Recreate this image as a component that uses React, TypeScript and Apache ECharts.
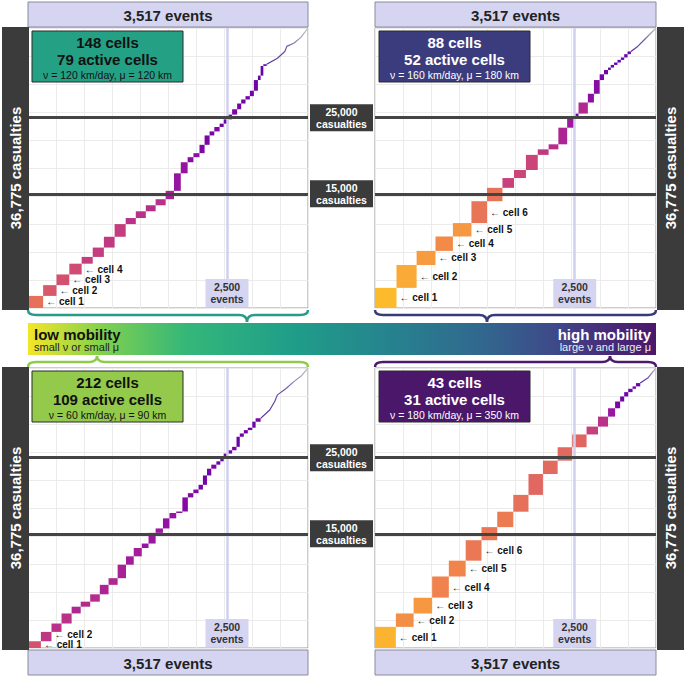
import React, { useEffect, useRef } from 'react';
import * as echarts from 'echarts';

const TOTAL_EVENTS = 3517;
const TOTAL_CASUALTIES = 36775;
const EVENT_MARK = 2500;
const CASUALTY_MARKS = [25000, 15000];

// Top-left panel: v = 120 km/day, mu = 120 km (cumulative events / casualties at cell boundaries)
const tlEvents = [0, 190, 358, 519, 674, 813, 953, 1088, 1227, 1354, 1480, 1603, 1729, 1834, 1919, 2005, 2078, 2154, 2218, 2281, 2340, 2407, 2458, 2514, 2564, 2627, 2678, 2732, 2787, 2837, 2888, 2922, 2956, 2998];
const tlCasualties = [0, 1588, 3003, 4406, 5821, 6708, 7938, 9354, 11021, 11815, 12701, 13495, 14288, 15387, 17689, 19144, 19806, 20335, 21433, 22664, 23193, 23775, 24212, 24781, 25402, 26103, 26857, 27386, 27823, 28537, 29939, 30522, 31792, 32017];
const tlTailEvents = [3133, 3226, 3251, 3343, 3428, 3517];
const tlTailCasualties = [32810, 33697, 34358, 34795, 35549, 36775];
const tlInfo = ['148 cells', '79 active cells', 'ν = 120 km/day, μ = 120 km'];

// Top-right panel: v = 160 km/day, mu = 180 km
const trEvents = [0, 269, 521, 757, 975, 1207, 1402, 1595, 1740, 1889, 2037, 2173, 2295, 2405, 2497, 2547, 2664, 2740, 2812, 2866, 2917, 2951, 2992, 3035, 3077, 3119, 3161, 3203];
const trCasualties = [0, 2646, 5649, 7501, 9393, 11153, 14024, 15784, 17067, 18125, 20110, 20837, 21499, 23682, 24939, 25534, 26989, 28140, 29940, 30694, 31262, 31580, 31924, 32242, 32586, 32903, 33340, 33697];
const trTailEvents = [3288, 3371, 3455, 3517];
const trTailCasualties = [34358, 35231, 36118, 36775];
const trInfo = ['88 cells', '52 active cells', 'ν = 160 km/day, μ = 180 km'];

// Bottom-left panel: v = 60 km/day, mu = 90 km
const blEvents = [0, 162, 295, 421, 548, 662, 781, 902, 1012, 1126, 1231, 1328, 1429, 1514, 1603, 1695, 1777, 1862, 1939, 2008, 2077, 2142, 2197, 2248, 2302, 2366, 2416, 2458, 2501, 2564, 2619, 2660, 2711, 2761, 2817, 2859, 2922];
const blCasualties = [0, 886, 2117, 3215, 4538, 5424, 6086, 7052, 8295, 9168, 10941, 12039, 13137, 13720, 15122, 15704, 17027, 17728, 17927, 19779, 20335, 20811, 21433, 22663, 23549, 24079, 24516, 24966, 25534, 25970, 26420, 27743, 28180, 28617, 28934, 29728, 30164];
const blTailEvents = [3036, 3099, 3133, 3238, 3343, 3428, 3517];
const blTailCasualties = [31262, 32374, 33247, 34041, 35020, 35681, 36775];
const blInfo = ['212 cells', '109 active cells', 'ν = 60 km/day, μ = 90 km'];

// Bottom-right panel: v = 180 km/day, mu = 350 km
const brEvents = [0, 261, 483, 715, 924, 1135, 1333, 1530, 1731, 1921, 2102, 2286, 2468, 2648, 2791, 2917, 3005, 3068, 3119, 3169, 3224, 3266, 3320];
const brCasualties = [0, 2778, 4538, 6615, 9393, 11470, 14156, 15876, 17900, 20110, 22848, 24608, 26367, 28048, 29080, 30390, 31488, 32374, 33036, 33605, 34042, 34360, 34795];
const brTailEvents = [3414, 3517];
const brTailCasualties = [35456, 36775];
const brInfo = ['43 cells', '31 active cells', 'ν = 180 km/day, μ = 350 km'];

const mobilityLabels = ['low mobility', 'small ν or small μ', 'high mobility', 'large ν and large μ'];

const FONT = '"Liberation Sans", Arial, Helvetica, sans-serif';
const LAVENDER = '#d5d5f1';
const DARK = '#3b3b3b';
const LABEL_GAP = 10;

// colour of a cell from its number of events (plasma-like)
const COLOR_STOPS: [number, string][] = [
  [30, '#5c07a6'], [60, '#7a04a8'], [90, '#9b179f'], [120, '#b42b8e'], [160, '#d3506f'],
  [185, '#e36c5e'], [210, '#f0834c'], [245, '#f9a33a'], [275, '#fcc128'],
];
function hexToRgb(h: string) {
  const n = parseInt(h.slice(1), 16);
  return [(n >> 16) & 255, (n >> 8) & 255, n & 255];
}
function cellColor(n: number) {
  const s = COLOR_STOPS;
  if (n <= s[0][0]) return s[0][1];
  if (n >= s[s.length - 1][0]) return s[s.length - 1][1];
  for (let i = 0; i < s.length - 1; i++) {
    if (n >= s[i][0] && n <= s[i + 1][0]) {
      const t = (n - s[i][0]) / (s[i + 1][0] - s[i][0]);
      const a = hexToRgb(s[i][1]);
      const b = hexToRgb(s[i + 1][1]);
      const c = a.map((v, k) => Math.round(v + (b[k] - v) * t));
      return `rgb(${c[0]},${c[1]},${c[2]})`;
    }
  }
  return s[0][1];
}

const PANELS = [
  { E: tlEvents, C: tlCasualties, tE: tlTailEvents, tC: tlTailCasualties, info: tlInfo, labelCount: 4,
    grid: { left: 28, top: 28, width: 280, height: 280 }, isTop: true, darkLeft: true,
    boxFill: '#24a085', boxText: '#111', braceColor: '#279c88', braceTip: 247 },
  { E: trEvents, C: trCasualties, tE: trTailEvents, tC: trTailCasualties, info: trInfo, labelCount: 6,
    grid: { left: 375, top: 28, width: 281, height: 280 }, isTop: true, darkLeft: false,
    boxFill: '#3b3c7e', boxText: '#fff', braceColor: '#383a7a', braceTip: 487 },
  { E: blEvents, C: blCasualties, tE: blTailEvents, tC: blTailCasualties, info: blInfo, labelCount: 2,
    grid: { left: 28, top: 368, width: 280, height: 280 }, isTop: false, darkLeft: true,
    boxFill: '#93ca4b', boxText: '#111', braceColor: '#8fca4c', braceTip: 97 },
  { E: brEvents, C: brCasualties, tE: brTailEvents, tC: brTailCasualties, info: brInfo, labelCount: 6,
    grid: { left: 375, top: 368, width: 281, height: 280 }, isTop: false, darkLeft: false,
    boxFill: '#4a176b', boxText: '#fff', braceColor: '#4b1a6c', braceTip: 610 },
];

function txt(x: number, y: number, text: string, font: string, fill: string, align = 'center', extra: any = {}) {
  return {
    type: 'text', x, y, z: 20, silent: true, ...extra,
    style: { text, font, fill, align, verticalAlign: 'middle', textAlign: align, textVerticalAlign: 'middle' },
  };
}
function box(x: number, y: number, w: number, h: number, fill: string, stroke?: string) {
  return {
    type: 'rect', z: 15, silent: true,
    shape: { x, y, width: w, height: h },
    style: { fill, stroke: stroke || null, lineWidth: stroke ? 1 : 0 },
  };
}
function brace(xL: number, xR: number, yEnd: number, yMid: number, yTip: number, xt: number, color: string) {
  const st = { stroke: color, lineWidth: 2.5, fill: 'none' };
  const r = 8;
  return [
    { type: 'bezierCurve', z: 15, shape: { x1: xL, y1: yEnd, x2: xL + r, y2: yMid, cpx1: xL, cpy1: yMid }, style: st },
    { type: 'line', z: 15, shape: { x1: xL + r, y1: yMid, x2: xt - r, y2: yMid }, style: st },
    { type: 'bezierCurve', z: 15, shape: { x1: xt - r, y1: yMid, x2: xt, y2: yTip, cpx1: xt, cpy1: yMid }, style: st },
    { type: 'bezierCurve', z: 15, shape: { x1: xt, y1: yTip, x2: xt + r, y2: yMid, cpx1: xt, cpy1: yMid }, style: st },
    { type: 'line', z: 15, shape: { x1: xt + r, y1: yMid, x2: xR - r, y2: yMid }, style: st },
    { type: 'bezierCurve', z: 15, shape: { x1: xR - r, y1: yMid, x2: xR, y2: yEnd, cpx1: xR, cpy1: yMid }, style: st },
  ];
}

function buildOption() {
  const grids: any[] = [];
  const xAxes: any[] = [];
  const yAxes: any[] = [];
  const series: any[] = [];
  PANELS.forEach((p, i) => {
    grids.push({ ...p.grid, show: true, backgroundColor: '#fff', borderColor: '#9a9a9a', borderWidth: 1 });
    xAxes.push({
      type: 'value', gridIndex: i, min: 0, max: TOTAL_EVENTS, interval: TOTAL_EVENTS / 10,
      axisLine: { show: false }, axisTick: { show: false }, axisLabel: { show: false },
      splitLine: { show: true, lineStyle: { color: '#ebebeb', width: 1 } },
    });
    yAxes.push({
      type: 'value', gridIndex: i, min: 0, max: TOTAL_CASUALTIES, interval: TOTAL_CASUALTIES / 10,
      axisLine: { show: false }, axisTick: { show: false }, axisLabel: { show: false },
      splitLine: { show: true, lineStyle: { color: '#ebebeb', width: 1 } },
    });
    series.push({
      type: 'line', xAxisIndex: i, yAxisIndex: i, data: [[0, 0]], symbol: 'none', z: 1,
      lineStyle: { width: 0 }, silent: true,
      markLine: {
        silent: true, symbol: 'none', label: { show: false }, animation: false,
        data: [
          { xAxis: EVENT_MARK, lineStyle: { color: '#cfd0f0', width: 2.5, type: 'solid' } },
          ...CASUALTY_MARKS.map((v) => ({ yAxis: v, lineStyle: { color: '#444', width: 3, type: 'solid' } })),
        ],
      },
    });
    const cells: number[][] = [];
    for (let k = 0; k < p.E.length - 1; k++) cells.push([p.E[k], p.C[k], p.E[k + 1], p.C[k + 1]]);
    const labelCount = p.labelCount;
    series.push({
      type: 'custom', xAxisIndex: i, yAxisIndex: i, z: 3, data: cells,
      encode: { x: [0, 2], y: [1, 3] },
      renderItem: (params: any, api: any) => {
        const x0 = api.value(0), y0 = api.value(1), x1 = api.value(2), y1 = api.value(3);
        const p0 = api.coord([x0, y0]);
        const p1 = api.coord([x1, y1]);
        const rect = {
          type: 'rect',
          shape: { x: p0[0], y: p1[1], width: p1[0] - p0[0], height: p0[1] - p1[1] },
          style: { fill: cellColor(x1 - x0) },
        };
        if (params.dataIndex < labelCount) {
          // label y: mid of the cell, kept at least LABEL_GAP px above the previous label
          let ly = Infinity;
          for (let k = 0; k <= params.dataIndex; k++) {
            const a = api.coord([cells[k][0], cells[k][1]]);
            const b = api.coord([cells[k][2], cells[k][3]]);
            const mid = (a[1] + b[1]) / 2;
            ly = Math.min(mid, ly - LABEL_GAP);
          }
          return {
            type: 'group',
            children: [
              rect,
              {
                type: 'text', x: p1[0] + 3, y: ly,
                style: {
                  text: '← cell ' + (params.dataIndex + 1), font: 'bold 10px ' + FONT, fill: '#111',
                  lineHeight: 9, align: 'left', verticalAlign: 'middle',
                },
              },
            ],
          };
        }
        return rect;
      },
    });
    const tail = [[p.E[p.E.length - 1], p.C[p.C.length - 1]], ...p.tE.map((e, k) => [e, p.tC[k]])];
    series.push({
      type: 'line', xAxisIndex: i, yAxisIndex: i, z: 4, data: tail, symbol: 'none', silent: true,
      lineStyle: {
        width: 1.2,
        color: new echarts.graphic.LinearGradient(0, 0, 1, 0, [
          { offset: 0, color: '#5526a0' },
          { offset: 0.5, color: '#6a55a8' },
          { offset: 1, color: '#c2c2c8' },
        ]),
      },
    });
  });
  return { animation: false, grid: grids, xAxis: xAxes, yAxis: yAxes, series };
}

function buildGraphics(chart: any) {
  const g: any[] = [];
  const eventsText = `${TOTAL_EVENTS.toLocaleString('en-US')} events`;
  const casText = `${TOTAL_CASUALTIES.toLocaleString('en-US')} casualties`;
  PANELS.forEach((p, i) => {
    const { left, top, width, height } = p.grid;
    const right = left + width;
    const bottom = top + height;
    const hy = p.isTop ? 2 : bottom + 2;
    g.push(box(left, hy, width, 25, LAVENDER, '#8a8a9a'));
    g.push(txt(left + width / 2, hy + 13, eventsText, 'bold 15px ' + FONT, '#222'));
    const dx = p.darkLeft ? 2 : right + 1;
    g.push(box(dx, top - 1, 27, height + 3, DARK));
    g.push(txt(dx + 13.5, top + height / 2, casText, 'bold 15px ' + FONT, '#fff', 'center', { rotation: Math.PI / 2 }));
    const bx = left + 4, by = top + 3;
    g.push(box(bx, by, 151, 51, p.boxFill, '#2a2a2a'));
    g.push(txt(bx + 75.5, by + 11, p.info[0], 'bold 15px ' + FONT, p.boxText));
    g.push(txt(bx + 75.5, by + 28.5, p.info[1], 'bold 15px ' + FONT, p.boxText));
    g.push(txt(bx + 75.5, by + 44, p.info[2], '10.5px ' + FONT, p.boxText));
    const px = chart.convertToPixel({ gridIndex: i }, [EVENT_MARK, 0]);
    g.push(box(px[0] - 21.5, bottom - 29, 43, 28, LAVENDER));
    g.push(txt(px[0], bottom - 21, EVENT_MARK.toLocaleString('en-US'), 'bold 10.5px ' + FONT, '#333'));
    g.push(txt(px[0], bottom - 9, 'events', 'bold 10.5px ' + FONT, '#333'));
    if (p.isTop) g.push(...brace(left, right, bottom + 2, bottom + 7, 322, p.braceTip, p.braceColor));
    else g.push(...brace(left, right, top - 1, top - 6, 356, p.braceTip, p.braceColor));
  });
  [0, 2].forEach((gi) => {
    CASUALTY_MARKS.forEach((v) => {
      const py = chart.convertToPixel({ gridIndex: gi }, [0, v])[1];
      g.push(box(310, py - 13.5, 63, 27, DARK));
      g.push(txt(341.5, py - 6, v.toLocaleString('en-US'), 'bold 10.5px ' + FONT, '#fff'));
      g.push(txt(341.5, py + 6, 'casualties', 'bold 10.5px ' + FONT, '#fff'));
    });
  });
  g.push({
    type: 'rect', z: 12, silent: true,
    shape: { x: 28, y: 323, width: 628, height: 32 },
    style: {
      fill: new echarts.graphic.LinearGradient(0, 0, 1, 0, [
        { offset: 0, color: '#f4e628' },
        { offset: 0.12, color: '#7fd04f' },
        { offset: 0.25, color: '#35b779' },
        { offset: 0.42, color: '#1f9e89' },
        { offset: 0.58, color: '#26828e' },
        { offset: 0.72, color: '#31688e' },
        { offset: 0.84, color: '#3e4989' },
        { offset: 0.93, color: '#482878' },
        { offset: 1, color: '#4a186b' },
      ]),
    },
  });
  g.push(txt(34, 334, mobilityLabels[0], 'bold 15px ' + FONT, '#111', 'left'));
  g.push(txt(34, 347, mobilityLabels[1], '11px ' + FONT, '#222', 'left'));
  g.push(txt(651, 334, mobilityLabels[2], 'bold 15px ' + FONT, '#fff', 'right'));
  g.push(txt(651, 347, mobilityLabels[3], '11px ' + FONT, '#eee', 'right'));
  return g;
}

export default function App() {
  const ref = useRef<HTMLDivElement>(null);
  useEffect(() => {
    document.body.style.margin = '0';
    const chart = echarts.init(ref.current as HTMLDivElement, null, { renderer: 'svg' });
    chart.setOption(buildOption() as any);
    chart.setOption({ graphic: { elements: buildGraphics(chart) } } as any);
    return () => chart.dispose();
  }, []);
  return <div ref={ref} style={{ width: 685, height: 678 }} />;
}
